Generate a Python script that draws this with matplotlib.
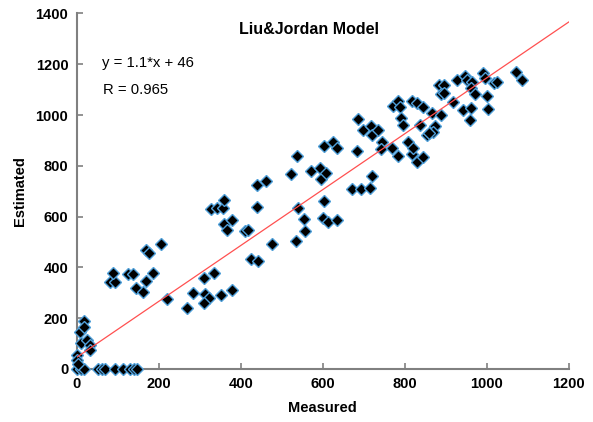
import matplotlib
matplotlib.use("Agg")
import matplotlib.pyplot as plt
import numpy as np

measured = [
    # zero-estimate row
    0, 10, 17, 53, 61, 70, 93, 114, 130, 140, 148,
    # near origin cluster
    18, 8, 18, 10, 24, 32, 33, 0, 0, 3,
    # low-left upper cluster
    81, 93, 89, 126, 137, 145, 161, 169, 185, 169, 177, 205,
    221, 268, 284, 311, 336, 313, 323, 311, 351, 380,
    360, 367, 380, 410,
    327, 342, 357, 359,
    418, 425, 443, 477, 534, 555, 557, 601, 612, 636,
    439, 441, 462, 522, 538, 540, 571, 593, 596, 608, 604, 604, 624, 634,
    672, 693, 716, 721, 683, 685, 699, 717, 721, 736, 744, 742, 768, 783,
    772, 784, 789, 790, 795, 817, 829, 807, 817, 829, 821, 838,
    845, 854, 845, 866, 874, 868, 860, 888, 884, 897, 888, 896, 919,
    928, 947, 951, 963, 961, 971, 943, 961, 959,
    990, 996, 1000, 1004, 1018, 1024, 1071, 1085,
]
estimated = [
    0, 0, 0, 0, 0, 0, 0, 0, 0, 0, 0,
    189, 146, 164, 101, 114, 94, 75, 55, 35, 18,
    344, 344, 377, 373, 373, 320, 304, 346, 377, 468, 455, 492,
    276, 241, 298, 360, 377, 294, 281, 259, 291, 311,
    570, 547, 587, 543,
    630, 633, 633, 665,
    547, 432, 426, 491, 504, 591, 545, 593, 580, 585,
    639, 724, 740, 768, 840, 635, 780, 790, 748, 770, 663, 879, 892, 869,
    707, 707, 711, 761, 859, 983, 941, 957, 921, 941, 892, 865, 871, 839,
    1037, 1056, 1033, 987, 961, 1056, 1048, 892, 845, 816, 869, 961,
    1033, 921, 836, 1007, 958, 932, 928, 1000, 1118, 1118, 1081, 1085, 1052,
    1138, 1155, 1138, 1131, 1105, 1081, 1020, 1026, 980,
    1164, 1144, 1076, 1024, 1125, 1129, 1171, 1138,
]
fit_slope = 1.1
fit_intercept = 46
fit_x = [0, 1200]

fig = plt.figure(figsize=(5.93, 4.22), dpi=100)
ax = fig.add_axes([0.1293, 0.1256, 0.8297, 0.8426])

ax.plot(measured, estimated, linestyle='none', marker='D', markersize=6.2,
        markerfacecolor='black', markeredgecolor='#4f9fd9', markeredgewidth=1.0,
        zorder=3, clip_on=False)
fx = np.array(fit_x, dtype=float)
ax.plot(fx, fit_slope * fx + fit_intercept, color='#ff5050', linewidth=0.9, zorder=4)

ax.set_xlim(0, 1200)
ax.set_ylim(0, 1400)
ax.set_xticks(range(0, 1201, 200))
ax.set_yticks(range(0, 1401, 200))

for s in ['top', 'right']:
    ax.spines[s].set_visible(False)
for s in ['left', 'bottom']:
    ax.spines[s].set_color('#808080')
    ax.spines[s].set_linewidth(1.5)

tickfont = ['Liberation Sans Narrow', 'Liberation Sans', 'DejaVu Sans']
ax.tick_params(direction='in', length=4, width=1.2, color='#808080',
               labelsize=10.5, pad=6)
for lab in ax.get_xticklabels() + ax.get_yticklabels():
    lab.set_family(tickfont)
    lab.set_fontweight('bold')

ax.set_xlabel('Measured', fontsize=10.5, fontweight='bold', family=tickfont, labelpad=7)
ax.set_ylabel('Estimated', fontsize=10.5, fontweight='bold', family=tickfont, labelpad=6)

ax.text(0.472, 0.956, 'Liu&Jordan Model', transform=ax.transAxes, ha='center', va='center',
        fontsize=11.5, fontweight='bold', family=['Liberation Sans', 'DejaVu Sans'])
ax.text(0.051, 0.861, 'y = 1.1*x + 46', transform=ax.transAxes, ha='left', va='center',
        fontsize=10.7, family=['Liberation Sans', 'DejaVu Sans'])
ax.text(0.053, 0.785, 'R = 0.965', transform=ax.transAxes, ha='left', va='center',
        fontsize=10.7, family=['Liberation Sans', 'DejaVu Sans'])

fig.savefig('out.png', dpi=100)
